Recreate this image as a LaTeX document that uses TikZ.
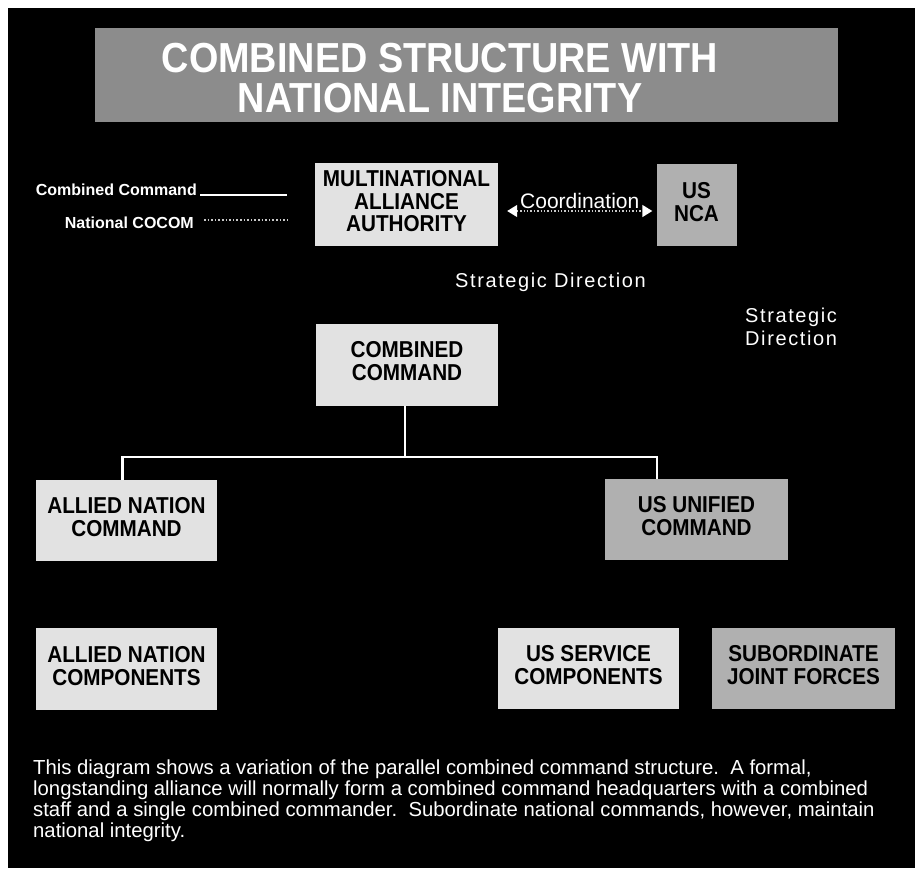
\documentclass[tikz,border=0pt]{standalone}
\usepackage{fontspec}
\setmainfont{Liberation Sans}
\newfontfamily\spacedfont[LetterSpace=8]{Liberation Sans}
\usetikzlibrary{arrows.meta}
\definecolor{lightbox}{HTML}{E2E2E2}
\definecolor{midbox}{HTML}{B0B0B0}
\definecolor{titlebox}{HTML}{8C8C8C}
\definecolor{dotgray}{HTML}{C8C8C8}
\newcommand\boxlines[1]{\scalebox{0.9}[1]{\begin{tabular}{@{}c@{}}#1\end{tabular}}}
\tikzset{
  cbox/.style={inner sep=0pt, minimum width=182pt, minimum height=82pt,
    fill=lightbox, text=black, font=\bfseries\fontsize{23}{22}\selectfont},
  gbox/.style={cbox, fill=midbox},
  treeline/.style={draw=white, line width=2.6pt},
  wtext/.style={text=white, inner sep=0pt},
}
\begin{document}
\begin{tikzpicture}[x=1pt, y=-1pt]
\useasboundingbox (0,0) rectangle (915,868);
\fill[white] (0,0) rectangle (915,868);
\fill[black] (8,8) rectangle (915,868);

% title
\node[fill=titlebox, minimum width=743pt, minimum height=94pt, inner sep=0pt] (title) at (466.5,75) {};
\node[wtext, font=\bfseries\fontsize{42}{40}\selectfont, align=center] (titletext) at (440,78)
  {\scalebox{0.9}[1]{COMBINED STRUCTURE WITH}\\\scalebox{0.9}[1]{NATIONAL INTEGRITY}};

% legend
\node[wtext, anchor=east, font=\bfseries\fontsize{16}{18}\selectfont] (lgcc) at (197,190) {Combined Command};
\node[wtext, anchor=east, font=\bfseries\fontsize{16}{18}\selectfont] (lgnc) at (194,223) {National COCOM};
\coordinate (lgccend) at (287,195);
\coordinate (lgncend) at (287,220);
\draw[white, line width=2pt] ([xshift=3pt,yshift=-5pt]lgcc.east) -- (lgccend);
\draw[dotgray, line width=1.6pt, dotted] ([xshift=10pt,yshift=3pt]lgnc.east) -- (lgncend);

% boxes
\node[cbox, minimum width=183pt, minimum height=83pt] (maa) at (406.5,204.5)
  {\boxlines{MULTINATIONAL\\ALLIANCE\\AUTHORITY}};
\node[gbox, minimum width=80pt] (nca) at (696.5,205)
  {\boxlines{US\\NCA}};
\node[cbox] (cc) at (407,364.5)
  {\boxlines{COMBINED\\COMMAND}};
\node[cbox, minimum width=181pt, minimum height=81pt] (anc) at (126.5,520.5)
  {\raisebox{-5pt}{\boxlines{ALLIED NATION\\COMMAND}}};
\node[gbox, minimum width=183pt, minimum height=81pt] (usu) at (696.5,519.5)
  {\raisebox{-5pt}{\boxlines{US UNIFIED\\COMMAND}}};
\node[cbox, minimum width=181pt] (ancomp) at (126.5,669)
  {\raisebox{-4pt}{\boxlines{ALLIED NATION\\COMPONENTS}}};
\node[cbox, minimum width=181pt, minimum height=81pt] (ussc) at (588.5,668.5)
  {\raisebox{-2pt}{\boxlines{US SERVICE\\COMPONENTS}}};
\node[gbox, minimum width=183pt, minimum height=81pt] (sjf) at (803.5,668.5)
  {\raisebox{-2pt}{\boxlines{SUBORDINATE\\JOINT FORCES}}};

% coordination
\draw[dotgray, line width=1.4pt, dotted,
      {Triangle[width=12pt,length=10pt,fill=white,color=white]}-{Triangle[width=12pt,length=10pt,fill=white,color=white]}]
  ([xshift=9pt,yshift=-6.5pt]maa.east) -- ([xshift=-4pt,yshift=-6pt]nca.west)
  node[midway, above=2pt, wtext, font=\fontsize{21}{24}\selectfont] (coord) {Coordination};

% labels
\node[wtext, anchor=base west, font=\spacedfont\fontsize{20}{23}\selectfont] (sd1) at (455,287) {Strategic Direction};
\node[wtext, anchor=north west, align=left, font=\spacedfont\fontsize{20}{23}\selectfont] (sd2) at (745,308) {Strategic\\Direction};

% tree
\coordinate (bus) at (0,457);
\draw[treeline] ([xshift=-2pt]cc.south) -- ([xshift=-2pt]cc.south |- bus);
\draw[treeline] ([xshift=-4pt]anc.north) |- ([xshift=-39.5pt]usu.north |- bus) -- ([xshift=-39.5pt]usu.north);

% paragraph
\node[wtext, anchor=north west, align=left, font=\fontsize{20.3}{21}\selectfont] (para) at (33,760)
  {This diagram shows a variation of the parallel combined command structure.\ \ A formal,\\
   longstanding alliance will normally form a combined command headquarters with a combined\\
   staff and a single combined commander.\ \ Subordinate national commands, however, maintain\\
   national integrity.};
\end{tikzpicture}
\end{document}
